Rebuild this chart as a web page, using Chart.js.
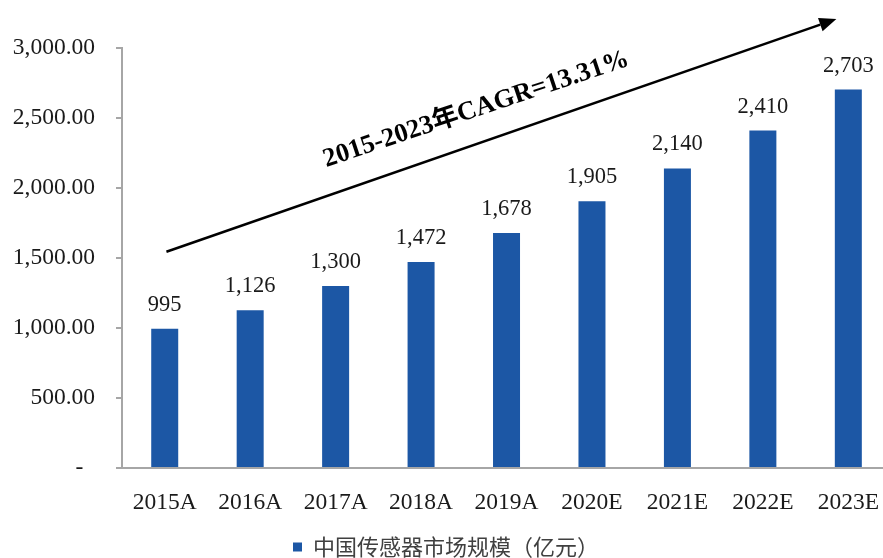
<!DOCTYPE html>
<html>
<head>
<meta charset="utf-8">
<script src="https://cdn.jsdelivr.net/npm/chart.js@4/dist/chart.umd.min.js"></script>
<style>
  html, body { margin: 0; padding: 0; background: #fff; overflow: hidden; }
  #wrap { width: 883px; height: 558px; overflow: hidden; position: relative; }
  canvas { display: block; }
</style>
</head>
<body>
<div id="wrap">
  <canvas id="chart" width="892" height="568"></canvas>
</div>
<script>
const categories = ['2015A', '2016A', '2017A', '2018A', '2019A', '2020E', '2021E', '2022E', '2023E'];
const marketSize = [995, 1126, 1300, 1472, 1678, 1905, 2140, 2410, 2703];
const yTicks = [0, 500, 1000, 1500, 2000, 2500, 3000];
const seriesName = '中国传感器市场规模（亿元）';

// CAGR arrow, given in data units (category index, value)
const cagrText = '2015-2023年CAGR=13.31%';
const arrowFrom = {x: 0.02, y: 1545};
const arrowTo = {x: 7.86, y: 3207};
const cagrTextAt = {x: 3.67, y: 2514};

const serif = '"Liberation Serif", "Times New Roman", serif';
const barColour = '#1C57A5';
const axisColour = '#A6A6A6';

// Draws the value above every bar
const barLabels = {
  id: 'barLabels',
  afterDatasetsDraw(chart) {
    const c = chart.ctx;
    const meta = chart.getDatasetMeta(0);
    c.save();
    c.font = '22.5px ' + serif;
    c.fillStyle = '#1a1a1a';
    c.textAlign = 'center';
    c.textBaseline = 'alphabetic';
    meta.data.forEach((bar, i) => {
      const v = chart.data.datasets[0].data[i];
      c.fillText(v.toLocaleString('en-US'), bar.x, bar.y - 18);
    });
    c.restore();
  }
};

// Draws the growth arrow and its rotated caption
const cagrArrow = {
  id: 'cagrArrow',
  afterDraw(chart) {
    const xs = chart.scales.x;
    const ys = chart.scales.y;
    const c = chart.ctx;

    const x0 = xs.getPixelForValue(arrowFrom.x);
    const y0 = ys.getPixelForValue(arrowFrom.y);
    const x1 = xs.getPixelForValue(arrowTo.x);
    const y1 = ys.getPixelForValue(arrowTo.y);
    const ang = Math.atan2(y1 - y0, x1 - x0);
    const headLen = 17;
    const headHalf = 7;

    c.save();
    c.strokeStyle = '#000';
    c.fillStyle = '#000';
    c.lineWidth = 2.5;
    c.beginPath();
    c.moveTo(x0, y0);
    c.lineTo(x1 - headLen * Math.cos(ang), y1 - headLen * Math.sin(ang));
    c.stroke();

    c.translate(x1, y1);
    c.rotate(ang);
    c.beginPath();
    c.moveTo(0, 0);
    c.lineTo(-headLen, -headHalf);
    c.lineTo(-headLen, headHalf);
    c.closePath();
    c.fill();
    c.restore();

    const tx = xs.getPixelForValue(cagrTextAt.x);
    const ty = ys.getPixelForValue(cagrTextAt.y);
    c.save();
    c.translate(tx, ty);
    c.rotate(-18.5 * Math.PI / 180);
    c.font = 'bold 26.5px ' + serif + ', "Noto Sans CJK SC"';
    c.fillStyle = '#000';
    c.textAlign = 'center';
    c.textBaseline = 'alphabetic';
    c.fillText(cagrText, 0, 0);
    c.restore();
  }
};

const ctx = document.getElementById('chart').getContext('2d');

const chart = new Chart(ctx, {
  type: 'bar',
  data: {
    labels: categories,
    datasets: [{
      label: seriesName,
      data: marketSize,
      backgroundColor: barColour,
      borderWidth: 0,
      categoryPercentage: 1,
      barPercentage: 0.316,
    }],
  },
  options: {
    responsive: false,
    devicePixelRatio: 1,
    animation: false,
    layout: {
      padding: {top: 48, right: 0, bottom: 0, left: 0},
    },
    plugins: {
      tooltip: {enabled: false},
      legend: {
        position: 'bottom',
        labels: {
          boxWidth: 9,
          boxHeight: 9,
          padding: 4,
          color: '#404040',
          font: {size: 22, family: '"Noto Sans CJK SC", sans-serif'},
        },
      },
    },
    scales: {
      x: {
        grid: {display: false},
        border: {display: true, color: axisColour, width: 2},
        ticks: {
          color: '#1a1a1a',
          padding: 13,
          maxRotation: 0,
          font: {size: 23.5, family: serif},
        },
        afterFit(scale) {
          scale.height = 64;
        },
      },
      y: {
        min: 0,
        max: 3000,
        afterBuildTicks(scale) {
          scale.ticks = yTicks.map(v => ({value: v}));
        },
        grid: {
          drawOnChartArea: false,
          drawTicks: true,
          tickLength: 6,
          color: axisColour,
          lineWidth: 2,
        },
        border: {display: true, color: axisColour, width: 2},
        ticks: {
          color: '#1a1a1a',
          padding: 21,
          font: {size: 23.5, family: serif},
          callback: v => v === 0 ? '-  ' :
              v.toLocaleString('en-US', {minimumFractionDigits: 2, maximumFractionDigits: 2}),
        },
        afterFit(scale) {
          scale.width = 122;
        },
      },
    },
  },
  plugins: [barLabels, cagrArrow],
});
</script>
</body>
</html>
